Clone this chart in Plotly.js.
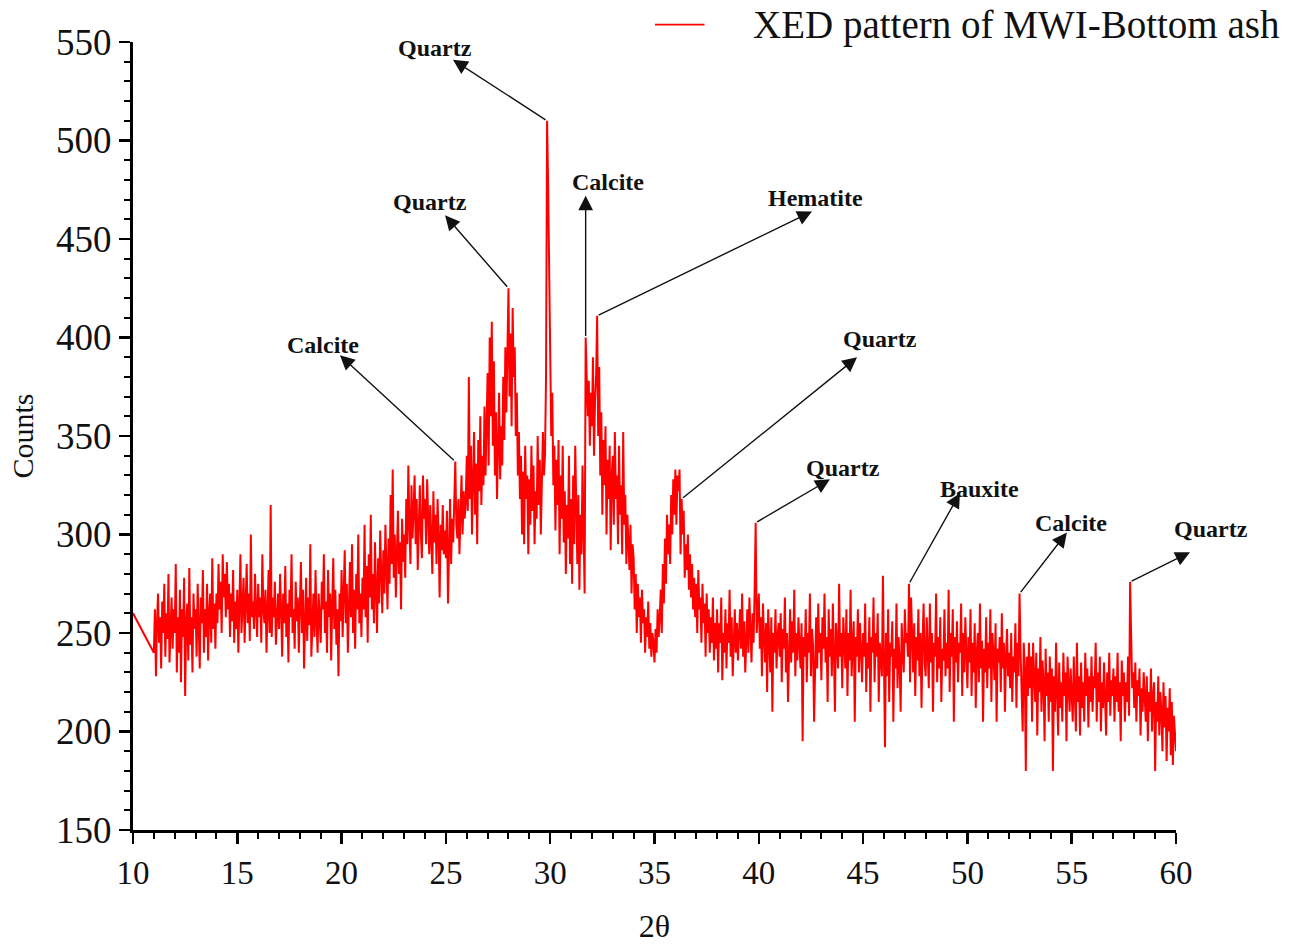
<!DOCTYPE html>
<html>
<head>
<meta charset="utf-8">
<script src="https://cdn.plot.ly/plotly-3.0.1.min.js"></script>
<style>
  html, body { margin: 0; padding: 0; background: #ffffff; }
  #chart { width: 1302px; height: 944px; }
</style>
</head>
<body>
<div id="chart"></div>
<script>
// XRD scan of MWI bottom ash: counts versus 2θ (degrees)
const leadInAngle = 10;
const leadInCount = 260;
const scanStart = 11.0;     // first angle of the stepped scan
const scanStep = 0.05;      // step width in degrees

// one row per degree, 20 steps each (11.00 ... 59.95), then the final point at 60
const counts = [
  240, 262, 228, 255, 270, 245, 258, 232, 266, 250, 275, 238, 260, 247, 280, 235, 256, 268, 242, 262,
  250, 285, 230, 258, 240, 272, 225, 262, 248, 278, 218, 255, 265, 236, 283, 244, 258, 230, 270, 252,
  262, 238, 275, 250, 232, 268, 255, 282, 240, 262, 248, 275, 236, 260, 270, 245, 288, 252, 265, 242,
  270, 255, 285, 262, 276, 250, 290, 268, 280, 258, 286, 262, 275, 248, 270, 256, 282, 245, 266, 252,
  272, 240, 265, 290, 250, 268, 278, 245, 262, 285, 255, 270, 246, 300, 258, 266, 252, 280, 262, 248,
  275, 258, 268, 245, 290, 262, 255, 272, 240, 265, 282, 250, 315, 248, 268, 258, 276, 244, 262, 270,
  252, 280, 262, 238, 270, 255, 284, 248, 265, 235, 272, 258, 290, 250, 262, 242, 276, 256, 268, 240,
  264, 286, 250, 272, 232, 260, 278, 246, 268, 254, 295, 238, 262, 270, 248, 282, 256, 240, 270, 258,
  245, 276, 262, 290, 250, 266, 240, 282, 258, 270, 236, 264, 288, 252, 272, 244, 262, 228, 270, 256,
  282, 248, 268, 292, 255, 275, 240, 262, 286, 258, 295, 250, 272, 242, 280, 262, 300, 255, 270, 248,
  278, 262, 305, 258, 284, 245, 290, 268, 310, 262, 280, 255, 296, 272, 250, 288, 265, 302, 276, 260,
  292, 270, 305, 282, 262, 298, 275, 320, 285, 333, 278, 300, 268, 290, 312, 280, 296, 262, 308, 286,
  300, 278, 318, 295, 335, 305, 285, 325, 298, 312, 330, 295, 318, 282, 310, 325, 300, 288, 330, 308,
  318, 295, 328, 305, 290, 315, 300, 280, 322, 296, 310, 285, 318, 300, 268, 305, 292, 315, 290, 302,
  288, 312, 265, 300, 318, 285, 308, 296, 325, 337, 305, 298, 318, 290, 310, 330, 300, 322, 308, 316,
  340, 312, 380, 318, 345, 300, 328, 352, 310, 336, 295, 348, 322, 360, 315, 340, 325, 365, 330, 350,
  382, 335, 400, 360, 408, 345, 388, 330, 362, 318, 345, 372, 328, 355, 335, 380, 348, 395, 362, 398,
  425, 370, 402, 355, 415, 380, 395, 350, 372, 330, 352, 318, 340, 300, 332, 295, 345, 318, 330, 290,
  328, 305, 345, 312, 335, 295, 322, 308, 350, 315, 338, 300, 325, 352, 330, 340, 380, 510, 478, 440,
  400, 350, 372, 325, 345, 302, 338, 315, 348, 290, 330, 308, 345, 296, 322, 280, 315, 298, 340, 285,
  318, 275, 330, 295, 345, 305, 285, 320, 272, 310, 290, 335, 300, 270, 400, 385, 360, 378, 345, 372,
  355, 390, 340, 368, 380, 411, 350, 385, 330, 362, 310, 348, 325, 355, 300, 338, 318, 345, 292, 330,
  340, 305, 352, 318, 330, 295, 345, 310, 325, 290, 352, 305, 320, 285, 310, 296, 282, 305, 270, 295,
  288, 262, 280, 250, 275, 258, 268, 245, 272, 255, 262, 240, 258, 248, 266, 242, 255, 238, 250, 245,
  235, 252, 240, 262, 248, 258, 272, 250, 285, 265, 298, 275, 310, 290, 305, 285, 320, 300, 328, 310,
  333, 305, 330, 322, 333, 290, 318, 300, 312, 278, 295, 282, 300, 272, 290, 268, 285, 262, 278, 258,
  275, 250, 282, 262, 268, 245, 275, 255, 265, 238, 270, 250, 262, 240, 258, 245, 268, 236, 255, 242,
  262, 230, 255, 245, 268, 226, 250, 240, 262, 232, 255, 245, 272, 238, 258, 228, 252, 262, 240, 255,
  236, 250, 262, 242, 270, 238, 256, 230, 248, 262, 240, 268, 252, 235, 260, 245, 272, 306, 250, 262,
  270, 242, 258, 228, 265, 248, 235, 255, 220, 262, 245, 230, 258, 210, 250, 240, 262, 232, 248, 255,
  238, 260, 225, 252, 242, 268, 230, 250, 215, 245, 262, 235, 256, 240, 272, 228, 250, 236, 258, 244,
  232, 255, 195, 248, 238, 262, 225, 250, 240, 270, 228, 252, 244, 205, 245, 258, 232, 265, 240, 250,
  226, 258, 242, 270, 235, 248, 215, 262, 238, 252, 228, 265, 240, 210, 255, 245, 232, 275, 238, 250,
  222, 258, 240, 232, 262, 218, 250, 236, 272, 228, 245, 256, 205, 248, 238, 262, 230, 255, 242, 225,
  250, 238, 265, 220, 245, 232, 258, 210, 248, 240, 268, 225, 250, 238, 260, 215, 245, 232, 228, 279,
  235, 192, 250, 228, 262, 215, 245, 238, 256, 205, 242, 232, 265, 222, 248, 236, 210, 255, 240, 230,
  262, 245, 250, 238, 275, 225, 268, 242, 230, 255, 218, 248, 236, 262, 228, 250, 212, 245, 265, 235,
  228, 258, 240, 222, 265, 235, 250, 210, 245, 238, 270, 225, 248, 232, 258, 215, 242, 236, 262, 228,
  245, 232, 272, 220, 250, 238, 262, 205, 248, 235, 256, 225, 245, 240, 265, 218, 250, 230, 258, 238,
  222, 248, 235, 262, 218, 245, 230, 255, 212, 240, 250, 225, 265, 232, 246, 205, 242, 230, 258, 222,
  245, 232, 262, 215, 250, 238, 226, 255, 205, 242, 235, 248, 220, 260, 232, 245, 210, 238, 252, 228,
  240, 222, 250, 215, 238, 230, 255, 212, 245, 228, 270, 240, 225, 200, 245, 232, 180, 238, 218, 245,
  222, 238, 205, 245, 228, 215, 240, 198, 232, 220, 248, 210, 236, 225, 195, 242, 218, 230, 205, 238,
  215, 232, 180, 228, 210, 245, 220, 198, 235, 212, 225, 205, 240, 218, 230, 195, 238, 222, 210, 232,
  218, 205, 238, 222, 200, 245, 215, 228, 198, 235, 212, 225, 205, 240, 218, 232, 202, 228, 215, 238,
  210, 228, 222, 245, 205, 230, 215, 238, 200, 225, 212, 235, 220, 198, 230, 215, 240, 208, 226, 218,
  232, 205, 228, 215, 240, 210, 225, 195, 236, 218, 230, 205, 225, 215, 238, 208, 276, 250, 222, 230,
  212, 235, 205, 226, 218, 232, 198, 222, 210, 230, 215, 205, 228, 195, 220, 210, 232, 200, 218, 225,
  180, 215, 205, 228, 198, 220, 210, 190, 225, 202, 218, 185, 212, 200, 222, 188, 215, 183, 208, 195,
  190
];

// identified phases and the 2θ of the reflection each one marks
const phaseNames  = ['Calcite', 'Quartz', 'Quartz', 'Calcite', 'Hematite', 'Quartz', 'Quartz', 'Bauxite', 'Calcite', 'Quartz'];
const phaseAngles = [25.45, 28.0, 29.85, 31.7, 32.25, 36.3, 39.85, 47.2, 52.5, 57.8];

const seriesName = 'XED pattern of MWI-Bottom ash';

// ---- build the x values of the scan ----
const twoTheta = [leadInAngle];
const intensity = [leadInCount];
counts.forEach((c, i) => {
  twoTheta.push(+(scanStart + i * scanStep).toFixed(2));
  intensity.push(c);
});

// tallest point of the scan within a small window around an angle
function peakAt(angle) {
  let best = -1;
  for (let i = 0; i < twoTheta.length; i++) {
    if (Math.abs(twoTheta[i] - angle) <= 0.06 && (best < 0 || intensity[i] > intensity[best])) best = i;
  }
  return { x: twoTheta[best], y: intensity[best] };
}

// plot-area geometry; labels use paper x so the last one may sit right of the x range
const plotLeft = 133, plotWidth = 1043;
const xMin = 10, xMax = 60;
const toPaperX = v => (v - xMin) / (xMax - xMin);

// label placement: arrow tip and label centre, in data units
const labelLayout = [
  { tip: [19.92, 391], label: [19.1, 396] },
  { tip: [24.96, 462], label: [24.25, 469] },
  { tip: [25.34, 541], label: [24.5, 547] },
  { tip: [null, 472],  label: [32.75, 479] },
  { tip: [42.55, 464], label: [42.7, 471] },
  { tip: [44.71, 390], label: [45.8, 399] },
  { tip: [43.41, 328], label: [44.05, 334] },
  { tip: [49.64, 321], label: [50.6, 323] },
  { tip: [54.77, 301], label: [54.95, 306] },
  { tip: [60.67, 291], label: [61.7, 303] }
];

const serif = 'Liberation Serif, Times New Roman, serif';
const annotations = [];
phaseNames.forEach((name, k) => {
  const p = peakAt(phaseAngles[k]);
  const pos = labelLayout[k];
  const tipX = pos.tip[0] === null ? p.x : pos.tip[0];
  annotations.push({
    x: tipX, y: pos.tip[1], xref: 'x', yref: 'y',
    ax: p.x, ay: p.y, axref: 'x', ayref: 'y',
    text: '', showarrow: true,
    arrowhead: 2, arrowsize: 2.1, arrowwidth: 1.4, arrowcolor: '#111111',
    standoff: 0, startstandoff: 0
  });
  annotations.push({
    x: toPaperX(pos.label[0]), y: pos.label[1], xref: 'paper', yref: 'y',
    xanchor: 'center', yanchor: 'middle',
    text: '<b>' + name + '</b>', showarrow: false,
    font: { family: serif, size: 24, color: '#111111' }
  });
});

// legend entry drawn at the top right
annotations.push({
  x: 0.593, y: 1.022, xref: 'paper', yref: 'paper',
  xanchor: 'left', yanchor: 'middle',
  text: seriesName, showarrow: false,
  font: { family: serif, size: 39, color: '#111111' }
});

const trace = {
  x: twoTheta,
  y: intensity,
  type: 'scatter',
  mode: 'lines',
  name: seriesName,
  line: { color: '#ff0000', width: 2 },
  showlegend: false
};

const axisCommon = {
  showgrid: false,
  zeroline: false,
  showline: true,
  linecolor: '#000000',
  linewidth: 3,
  ticks: 'outside',
  ticklen: 11,
  tickwidth: 2.5,
  tickcolor: '#000000',
  tickfont: { family: serif, size: 33, color: '#111111' },
  mirror: false
};

const layout = {
  width: 1302,
  height: 944,
  margin: { l: plotLeft, r: 1302 - plotLeft - plotWidth, t: 42, b: 114 },
  paper_bgcolor: '#ffffff',
  plot_bgcolor: '#ffffff',
  xaxis: Object.assign({}, axisCommon, {
    range: [xMin, xMax],
    tick0: 10, dtick: 5,
    minor: { dtick: 1, ticks: 'outside', ticklen: 6, tickwidth: 2, tickcolor: '#000000', showgrid: false },
    title: { text: '2θ', font: { family: serif, size: 32, color: '#111111' }, standoff: 28 }
  }),
  yaxis: Object.assign({}, axisCommon, {
    range: [150, 550],
    tick0: 150, dtick: 50,
    tickfont: { family: serif, size: 37, color: '#111111' },
    minor: { dtick: 10, ticks: 'outside', ticklen: 6, tickwidth: 2, tickcolor: '#000000', showgrid: false },
    title: { text: 'Counts', font: { family: serif, size: 30, color: '#111111' }, standoff: 14 }
  }),
  shapes: [{
    type: 'line', xref: 'paper', yref: 'paper',
    x0: 0.5005, x1: 0.548, y0: 1.022, y1: 1.022,
    line: { color: '#ff0000', width: 1.6 }
  }],
  annotations: annotations
};

Plotly.newPlot('chart', [trace], layout, { displayModeBar: false, staticPlot: true });
</script>
</body>
</html>
